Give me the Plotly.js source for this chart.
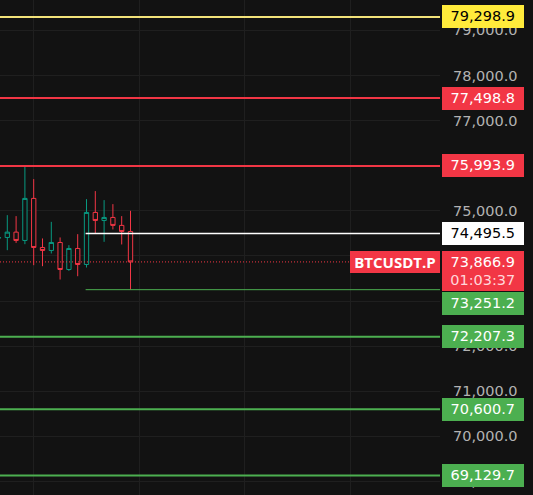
<!DOCTYPE html>
<html><head><meta charset="utf-8">
<script src="https://cdn.plot.ly/plotly-3.0.1.min.js"></script>
<style>html,body{margin:0;padding:0;background:#121212;overflow:hidden}#chart{width:533px;height:495px}</style>
</head><body><div id="chart"></div>
<script>
// ---- data ----
const candleIndex = [-1, 0, 1, 2, 3, 4, 5, 6, 7, 8, 9, 10, 11, 12, 13, 14];
const openVals  = [74395, 74409, 74527, 74343, 75275, 74187, 74121, 74298, 73699, 74165, 73810, 74964, 74786, 74853, 74676, 74542];
const highVals  = [74420, 74904, 74882, 75990, 75703, 74387, 74755, 74409, 74238, 74482, 75259, 75437, 75237, 75148, 74882, 75000];
const lowVals   = [74380, 74127, 74289, 74260, 73794, 73772, 74054, 73477, 73668, 73550, 73743, 74498, 74312, 74587, 74254, 73251.2];
const closeVals = [74405, 74527, 74343, 75275, 74187, 74121, 74298, 73699, 74165, 73810, 74964, 74786, 74853, 74676, 74542, 73866.9];
const levelPrices = [79298.9, 77498.8, 75993.9, 74495.5, 73251.2, 72207.3, 70600.7, 69129.7];
const currentPrice = 73866.9;
const countdown = "01:03:37";
const symbolName = "BTCUSDT.P";

// ---- styles ----
const BG = '#121212', GRID = '#1f1f1f';
const UP = '#089981', DOWN = '#f23645';
const levelStyle = [
  {line:'#f2e27a', w:2, box:'#ffeb3b', txt:'#000000', start:null, shift:0},
  {line:'#f23645', w:2, box:'#f23645', txt:'#ffffff', start:null, shift:0},
  {line:'#f23645', w:2, box:'#f23645', txt:'#ffffff', start:null, shift:0},
  {line:'#ffffff', w:1.5, box:'#ffffff', txt:'#000000', start:8.9, shift:0},
  {line:'#4caf50', w:1, box:'#4caf50', txt:'#ffffff', start:8.9, shift:-14},
  {line:'#4caf50', w:2, box:'#4caf50', txt:'#ffffff', start:null, shift:0},
  {line:'#4caf50', w:2, box:'#4caf50', txt:'#ffffff', start:null, shift:0},
  {line:'#4caf50', w:2, box:'#4caf50', txt:'#ffffff', start:null, shift:0}
];
const xRange = [-0.83, 49.17];
const yRange = [68699, 79674];
const FONT = 'DejaVu Sans, sans-serif';
const FS = 14.5;
const fmt = v => v.toLocaleString('en-US', {minimumFractionDigits:1, maximumFractionDigits:1});

const trace = {
  type:'candlestick', x:candleIndex, open:openVals, high:highVals, low:lowVals, close:closeVals,
  increasing:{line:{color:UP, width:1}, fillcolor:BG},
  decreasing:{line:{color:DOWN, width:1}, fillcolor:BG},
  whiskerwidth:0, hoverinfo:'skip', showlegend:false
};

const shapes = [];
const annotations = [];
levelPrices.forEach((p, i) => {
  const s = levelStyle[i];
  shapes.push({type:'line', xref:'x', yref:'y', x0:(s.start===null?xRange[0]:s.start), x1:xRange[1], y0:p, y1:p,
    line:{color:s.line, width:s.w}, layer:'above'});
  annotations.push({xref:'paper', yref:'y', x:1, y:p, xanchor:'left', yanchor:'middle', xshift:1.5, yshift:s.shift,
    text:fmt(p), showarrow:false, bgcolor:s.box, borderwidth:0, borderpad:2, width:77.5, height:18.5, align:'center',
    font:{family:FONT, size:FS, color:s.txt}});
});
// current price dotted line
shapes.push({type:'line', xref:'x', yref:'y', x0:xRange[0], x1:xRange[1], y0:currentPrice, y1:currentPrice,
  line:{color:DOWN, width:1, dash:'1px,2px'}, layer:'above'});
annotations.push({xref:'paper', yref:'y', x:1, y:currentPrice, xanchor:'left', yanchor:'top', xshift:1.5, yshift:11,
  text:fmt(currentPrice)+'<br><span style="color:#ffd6da">'+countdown+'</span>', showarrow:false, bgcolor:DOWN,
  borderwidth:0, borderpad:2, width:77.5, height:36, align:'center', font:{family:FONT, size:FS, color:'#ffffff'}});
annotations.push({xref:'paper', yref:'y', x:1, y:currentPrice, xanchor:'right', yanchor:'middle', xshift:0,
  text:'<b>'+symbolName+'</b>', showarrow:false, bgcolor:DOWN, borderwidth:0, borderpad:2, width:86, height:18,
  align:'center', font:{family:'Open Sans, sans-serif', size:15, color:'#ffffff'}});

const layout = {
  width:533, height:495, margin:{l:0, r:93, t:0, b:0},
  paper_bgcolor:BG, plot_bgcolor:BG, showlegend:false,
  xaxis:{range:xRange, rangeslider:{visible:false}, showticklabels:false, ticks:'', tickmode:'array',
    tickvals:[3,15,27,39], showgrid:true, gridcolor:GRID, gridwidth:1, zeroline:false, showline:false, fixedrange:true},
  yaxis:{range:yRange, side:'right', dtick:1000, tick0:0, tickformat:',.1f', ticks:'', ticklabelstandoff:12,
    showgrid:true, gridcolor:GRID, gridwidth:1, zeroline:false, showline:false,
    tickfont:{family:FONT, size:FS, color:'#b2b2b2'}, fixedrange:true},
  shapes:shapes, annotations:annotations
};
Plotly.newPlot('chart', [trace], layout, {displayModeBar:false, staticPlot:true});
</script></body></html>
